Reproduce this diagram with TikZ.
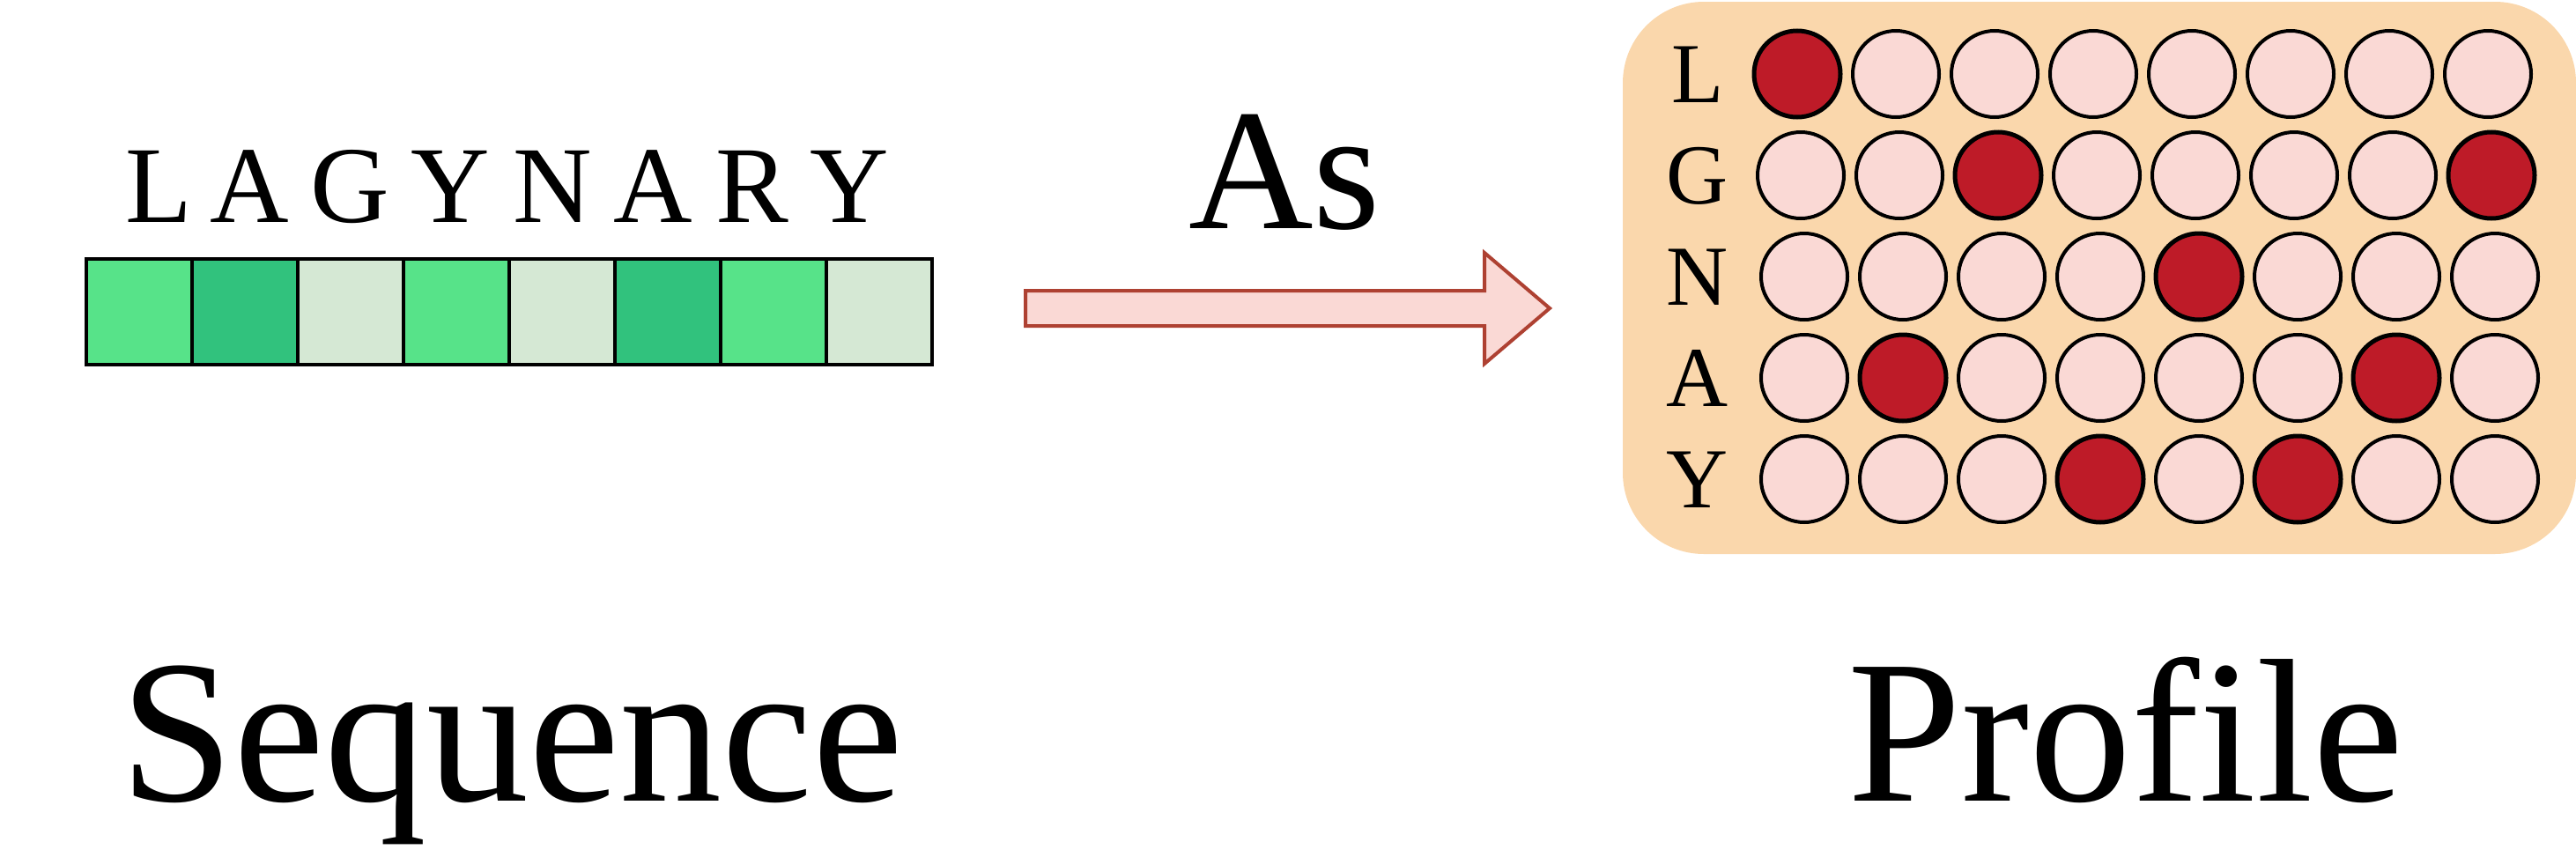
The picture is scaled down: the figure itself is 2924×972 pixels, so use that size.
\documentclass[tikz,border=0pt]{standalone}
\usepackage{fontspec}
\setmainfont{Liberation Serif}[Ligatures=CommonOff]

\definecolor{cellA}{HTML}{57E389}
\definecolor{cellB}{HTML}{31C27D}
\definecolor{cellC}{HTML}{D5E8D4}
\definecolor{arrfill}{HTML}{FAD9D5}
\definecolor{arrline}{HTML}{AE4132}
\definecolor{profbg}{HTML}{FAD7AC}
\definecolor{hitred}{HTML}{BE1B28}

\newcommand{\seqfont}{\fontsize{124}{124}\selectfont}
\newcommand{\rowfont}{\fontsize{97}{97}\selectfont}
\newcommand{\asfont}{\fontsize{196}{196}\selectfont}
\newcommand{\bigfont}{\fontsize{232}{232}\selectfont}

\tikzset{
    seqcell/.style={draw=black, line width=4pt, minimum width=120pt, minimum height=120pt, inner sep=0pt},
    pcircle/.style={circle, draw=black, line width=4pt, minimum size=98pt, inner sep=0pt, fill=arrfill},
    hitdot/.style={pcircle, fill=hitred, line width=5pt},
    lab/.style={inner sep=0pt, anchor=base},
}

\begin{document}
\begin{tikzpicture}[x=1pt, y=-1pt]
    \useasboundingbox (0,0) rectangle (2924,972);
    % sequence
    \foreach \c [count=\i] in {cellA,cellB,cellC,cellA,cellC,cellB,cellA,cellC}
        \node[seqcell, fill=\c] (cell\i) at (38+120*\i, 354) {};
    \foreach \l/\x [count=\i] in {L/180, A/283, G/397, Y/511, N/627, A/741, R/854, Y/964}
        \node[lab, font=\seqfont] (res\i) at (\x, 252) {\l};
    \node[lab, font=\bigfont] (seq) at (581, 909) {Sequence};
    % arrow
    \draw[arrline, fill=arrfill, line width=4pt] (1164,330) -- (1685,330) -- (1685,287)
        -- (1759,350) -- (1685,413) -- (1685,370) -- (1164,370) -- cycle;
    \node[lab, font=\asfont] (as) at (1458, 259) {As};
    % profile
    \fill[profbg, rounded corners=92pt] (1842,2) rectangle (2924,629);
    \foreach \r/\l/\dx/\ha/\hb in {1/L/0/1/0, 2/G/4/3/8, 3/N/8/5/0, 4/A/8/2/7, 5/Y/8/4/6} {
        \node[lab, font=\rowfont] (row\r) at (1927, 1+115*\r) {\l};
        \foreach \c in {1,...,8} {
            \def\sty{pcircle}
            \ifnum\c=\ha \def\sty{hitdot}\fi
            \ifnum\c=\hb \def\sty{hitdot}\fi
            \node[\sty] (p\r-\c) at (1928+112*\c+\dx, -31+115*\r) {};
        }
    }
    \node[lab, font=\bigfont] (prof) at (2413, 909) {Profile};
\end{tikzpicture}
\end{document}
